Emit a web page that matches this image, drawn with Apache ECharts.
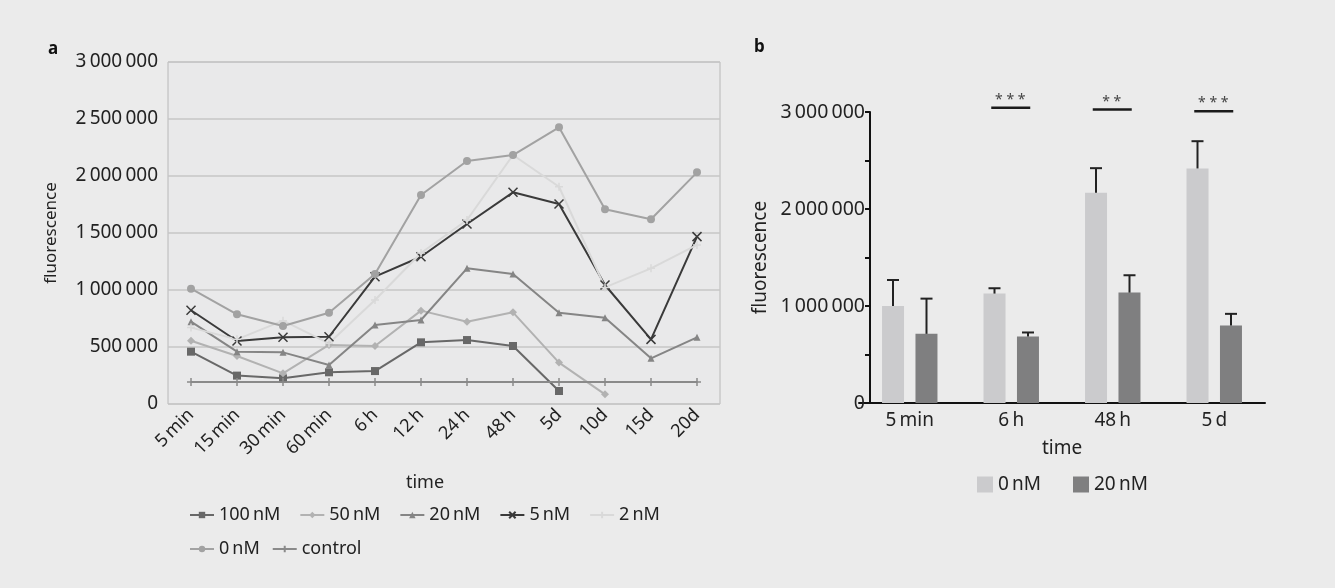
<!DOCTYPE html>
<html>
<head>
<meta charset="utf-8">
<script src="https://cdn.jsdelivr.net/npm/echarts@6/dist/echarts.min.js"></script>
<style>
html,body{margin:0;padding:0;background:#ebebeb;}
#c{width:1335px;height:588px;}
</style>
</head>
<body>
<div id="c"></div>
<script>
// ---- Panel a data ----
const timeCats = ['5\u2009min','15\u2009min','30\u2009min','60\u2009min','6\u2009h','12\u2009h','24\u2009h','48\u2009h','5d','10d','15d','20d'];
const s100 = [459000,249000,225000,278000,289000,541000,561000,509000,114000,null,null,null];
const s50  = [555000,421000,269000,518000,509000,819000,722000,804000,363000,85000,null,null];
const s20  = [722000,459000,453000,342000,693000,737000,1190000,1140000,801000,757000,401000,585000];
const s5   = [822000,553000,585000,590000,1117000,1292000,1579000,1857000,1754000,1044000,567000,1468000];
const s2   = [670000,567000,731000,532000,912000,1325000,1614000,2184000,1906000,1023000,1190000,1395000];
const s0   = [1011000,787000,684000,801000,1140000,1833000,2132000,2184000,2427000,1708000,1620000,2032000];
const sCtrl= [193000,193000,193000,193000,193000,193000,193000,193000,193000,193000,193000,193000];
const lineNames = ['100\u2009nM','50\u2009nM','20\u2009nM','5\u2009nM','2\u2009nM','0\u2009nM','control'];

// ---- Panel b data ----
const barCats = ['5\u2009min','6\u2009h','48\u2009h','5\u2009d'];
const bar0 = [1000000,1128000,2167000,2418000];
const bar0Err = [1268000,1183000,2421000,2699000];
const bar20 = [713000,685000,1138000,798000];
const bar20Err = [1076000,727000,1317000,919000];
const sigStars = ['', '* * *', '* *', '* * *'];
const sigValues = [null, 3045000, 3025000, 3007000];
const barNames = ['0\u2009nM','20\u2009nM'];

const FONT = 'Noto Sans';
function fmt(v){ return String(v).replace(/\B(?=(\d{3})+(?!\d))/g, '\u2009'); }

const XSYM = 'path://M0,0L10,10M10,0L0,10';
const PSYM = 'path://M5,0L5,10M0,5L10,5';
const BAR_COLORS = ['#cbcbcd', '#7f7f80'];

function lineSeries(name, data, color, symbol, size, stroke){
  return {
    type:'line', name:name, data:data, xAxisIndex:0, yAxisIndex:0,
    symbol:symbol, symbolSize:size, connectNulls:false,
    lineStyle:{color:color, width:2},
    itemStyle: stroke ? {color:color, borderColor:color, borderWidth:1.5} : {color:color},
    emphasis:{disabled:true}
  };
}

const BAR_SHIFT = 16.75;
function errSeries(vals, errs, shift){
  return {
    type:'custom', xAxisIndex:1, yAxisIndex:1, silent:true, z:5,
    data: vals.map((v,i)=>[i, v, errs[i]]),
    renderItem: function(params, api){
      const p1 = api.coord([api.value(0), api.value(1)]);
      const p2 = api.coord([api.value(0), api.value(2)]);
      const cx = p1[0] + shift;
      const st = {stroke:'#222', lineWidth:2};
      return {type:'group', children:[
        {type:'line', shape:{x1:cx,y1:p1[1],x2:cx,y2:p2[1]}, style:st},
        {type:'line', shape:{x1:cx-6,y1:p2[1],x2:cx+6,y2:p2[1]}, style:st}
      ]};
    }
  };
}

const chart = echarts.init(document.getElementById('c'), null, {renderer:'canvas'});
const option = {
  animation:false,
  backgroundColor:'#ebebeb',
  textStyle:{fontFamily:FONT},
  title:[
    {text:'a', left:43, top:36, textStyle:{fontFamily:FONT, fontSize:17, fontWeight:'bold', color:'#111'}},
    {text:'b', left:749, top:34, textStyle:{fontFamily:FONT, fontSize:17, fontWeight:'bold', color:'#111'}}
  ],
  legend:[
    {data:lineNames.slice(0,5), left:184, top:501, itemWidth:24, itemHeight:8, itemGap:19,
     textStyle:{fontFamily:FONT, fontSize:18, color:'#222'}},
    {data:lineNames.slice(5), left:184, top:535, itemWidth:24, itemHeight:8, itemGap:12,
     textStyle:{fontFamily:FONT, fontSize:18, color:'#222'}},
    {data:barNames.map((n,i)=>({name:n, itemStyle:{color:BAR_COLORS[i]}})), left:972, top:470, icon:'rect',
     itemWidth:16, itemHeight:16, itemGap:32,
     textStyle:{fontFamily:FONT, fontSize:19, color:'#222'}}
  ],
  grid:[
    {left:168, top:62, width:552, height:342, show:true, borderColor:'#b8b8b8', borderWidth:1, backgroundColor:'#e9e9ea'},
    {left:859, top:112, width:406, height:291}
  ],
  xAxis:[
    {type:'category', gridIndex:0, data:timeCats, boundaryGap:true,
     axisLine:{show:false}, axisTick:{show:false},
     axisLabel:{rotate:45, fontSize:18, color:'#222', margin:8, fontFamily:FONT, interval:0},
     name:'time', nameLocation:'middle', nameGap:70,
     nameTextStyle:{fontSize:18, color:'#222', fontFamily:FONT, padding:[0,38,0,0]}},
    {type:'category', gridIndex:1, data:barCats, boundaryGap:true,
     axisLine:{show:true, lineStyle:{color:'#111', width:2}}, axisTick:{show:false},
     axisLabel:{fontSize:19, color:'#222', margin:8, fontFamily:FONT},
     name:'time', nameLocation:'middle', nameGap:36, nameTextStyle:{fontSize:19, color:'#222', fontFamily:FONT}}
  ],
  yAxis:[
    {type:'value', gridIndex:0, min:0, max:3000000, interval:500000,
     axisLine:{show:false}, axisTick:{show:false},
     splitLine:{show:true, lineStyle:{color:'#c6c6c6', width:1.5}},
     axisLabel:{formatter:fmt, fontSize:19, color:'#222', margin:10, fontFamily:FONT},
     name:'fluorescence', nameLocation:'middle', nameGap:108, nameTextStyle:{fontSize:17, color:'#222', fontFamily:FONT}},
    {type:'value', gridIndex:1, min:0, max:3000000, interval:500000, offset:-11,
     axisLine:{show:true, lineStyle:{color:'#111', width:2}},
     axisTick:{show:true, length:5, lineStyle:{color:'#111', width:2}},
     splitLine:{show:false},
     axisLabel:{formatter:v => (v % 1000000 === 0 ? fmt(v) : ''), fontSize:19.5, color:'#222', margin:5, fontFamily:FONT},
     name:'fluorescence', nameLocation:'middle', nameGap:100, nameTextStyle:{fontSize:19, color:'#222', fontFamily:FONT}}
  ],
  series:[
    lineSeries(lineNames[0], s100, '#686868', 'rect', 8, false),
    lineSeries(lineNames[1], s50, '#b2b2b2', 'diamond', 8, false),
    lineSeries(lineNames[2], s20, '#858585', 'triangle', 7, false),
    lineSeries(lineNames[3], s5, '#3a3a3a', XSYM, 9, true),
    lineSeries(lineNames[4], s2, '#d9d9d9', PSYM, 8, true),
    lineSeries(lineNames[5], s0, '#a2a2a2', 'circle', 8, false),
    lineSeries(lineNames[6], sCtrl, '#8a8a8a', PSYM, 8, true),
    {type:'bar', name:barNames[0], data:bar0, xAxisIndex:1, yAxisIndex:1, barWidth:22, barGap:'52%',
     itemStyle:{color:BAR_COLORS[0]}},
    {type:'bar', name:barNames[1], data:bar20, xAxisIndex:1, yAxisIndex:1, barWidth:22,
     itemStyle:{color:BAR_COLORS[1]}},
    errSeries(bar0, bar0Err, -BAR_SHIFT),
    errSeries(bar20, bar20Err, BAR_SHIFT),
    {type:'custom', xAxisIndex:1, yAxisIndex:1, silent:true, z:6,
     data: sigValues.map((v,i)=>[i, v]).filter(d=>d[1]!==null),
     renderItem: function(params, api){
       const p = api.coord([api.value(0), api.value(1)]);
       const star = sigStars[api.value(0)];
       return {type:'group', children:[
         {type:'line', shape:{x1:p[0]-20,y1:p[1],x2:p[0]+19,y2:p[1]}, style:{stroke:'#1a1a1a', lineWidth:2.5}},
         {type:'text', style:{text:star, x:p[0]-1, y:p[1]-1, textAlign:'center', textVerticalAlign:'bottom',
           font:'14px "Noto Sans"', fill:'#444'}}
       ]};
     }}
  ]
};
chart.setOption(option);
</script>
</body>
</html>
